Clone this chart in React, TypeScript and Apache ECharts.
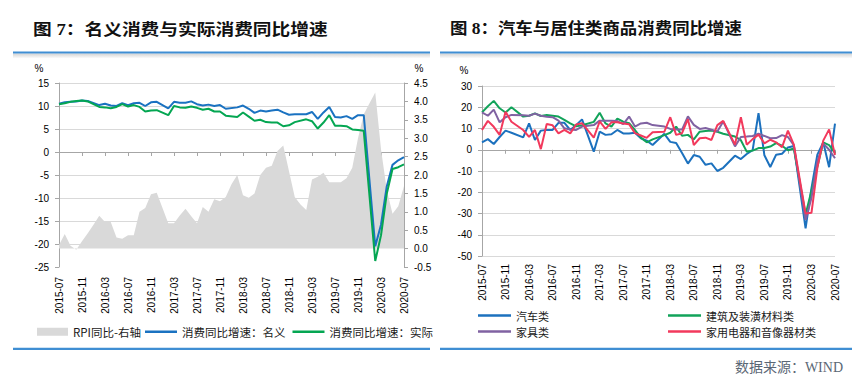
import React, { useEffect, useRef } from 'react';
import * as echarts from 'echarts';

const months = [
  '2015-07','2015-08','2015-09','2015-10','2015-11','2015-12',
  '2016-01','2016-02','2016-03','2016-04','2016-05','2016-06','2016-07','2016-08','2016-09','2016-10','2016-11','2016-12',
  '2017-01','2017-02','2017-03','2017-04','2017-05','2017-06','2017-07','2017-08','2017-09','2017-10','2017-11','2017-12',
  '2018-01','2018-02','2018-03','2018-04','2018-05','2018-06','2018-07','2018-08','2018-09','2018-10','2018-11','2018-12',
  '2019-01','2019-02','2019-03','2019-04','2019-05','2019-06','2019-07','2019-08','2019-09','2019-10','2019-11','2019-12',
  '2020-01','2020-02','2020-03','2020-04','2020-05','2020-06','2020-07',
];

// Figure 7
const rpi = [
  0.1, 0.4, 0.08, -0.03, 0.2, 0.42,
  0.65, 0.89, 0.72, 0.72, 0.3, 0.27, 0.36, 0.36, 1.0, 1.1, 1.48, 1.52,
  1.1, 0.69, 0.69, 0.9, 1.08, 0.88, 0.69, 1.13, 1.0, 1.34, 1.29, 1.4,
  1.75, 2.0, 1.45, 1.38, 1.5, 2.0, 2.2, 2.25, 2.65, 2.8, 2.1, 1.4,
  1.2, 1.05, 1.88, 1.95, 2.06, 1.8, 1.8, 1.8, 1.91, 2.2, 3.0, 3.65,
  3.95, 4.24, 2.7, 1.6, 0.95, 1.15, 1.7,
];
const nominal = [
  10.5, 10.8, 10.9, 11.0, 11.2, 11.1,
  null, 10.2, 10.5, 10.1, 10.0, 10.6, 10.2, 10.6, 10.7, 10.0, 10.8, 10.9,
  null, 9.5, 10.9, 10.7, 10.7, 11.0, 10.4, 10.1, 10.3, 10.0, 10.2, 9.4,
  null, 9.7, 10.1, 9.4, 8.5, 9.0, 8.8, 9.0, 9.2, 8.6, 8.1, 8.2,
  null, 8.2, 8.7, 7.2, 8.6, 9.8, 7.6, 7.5, 7.8, 7.2, 8.0, 8.0,
  null, -20.5, -15.8, -7.5, -2.8, -1.8, -1.1,
];
const real = [
  10.4, 10.6, 10.9, 11.1, 11.2, 11.0,
  null, 9.8, 9.7, 9.5, 9.8, 10.4, 9.9, 10.2, 9.8, 8.8, 9.0, 9.1,
  null, 8.0, 10.0, 9.7, 9.6, 9.9, 9.6, 9.2, 9.4, 8.8, 8.8, 7.9,
  null, 7.6, 8.6, 7.7, 6.8, 7.0, 6.5, 6.4, 6.4, 5.6, 5.8, 6.5,
  null, 7.1, 6.7, 5.1, 6.4, 8.0, 5.7, 5.7, 5.6, 4.9, 4.8, 4.6,
  null, -23.7, -18.1, -9.1, -3.7, -3.3, -2.7,
];

// Figure 8
const auto = [
  3.5, 5.0, 2.7, 6.0, 9.0, 8.0,
  null, 5.8, 12.4, 4.6, 9.0, 9.3, 9.3, 12.7, 12.7, 9.3, 11.6, 14.3,
  null, -0.9, 8.5, 7.0, 7.3, 9.3, 7.7, 7.7, 8.0, 5.4, 4.3, 2.2,
  null, 7.5, 3.7, 3.2, -1.5, -6.5, -2.5, -3.3, -7.1, -6.4, -10.0, -8.5,
  null, -2.8, -4.4, -2.0, -0.2, 17.2, -2.6, -8.1, -2.3, -1.9, 1.1, 1.8,
  null, -37.0, -18.1, -2.3, 3.5, -8.2, 12.3,
];
const building = [
  17.6, 20.5, 23.0, 19.5, 17.5, 20.0,
  null, 15.6, 16.0, 17.1, 15.9, 16.3, 16.0, 15.6, 14.1, 12.4, 11.0, 11.5,
  null, 13.1, 17.4, 12.4, 10.9, 14.7, 13.2, 12.5, 9.3, 5.7, 3.5, 4.9,
  null, 6.9, 8.0, 10.9, 6.6, 7.0, 4.9, 8.5, 8.8, 9.0, 8.5, 7.5,
  null, 6.2, 4.5, -0.9, -0.4, 0.8, 0.8, 1.5, 3.1, 1.9, -0.2, 0.6,
  null, -30.5, -19.3, -8.0, 3.5, 2.2, -1.5,
];
const furniture = [
  17.6, 16.0, 18.9, 12.9, 15.3, 16.4,
  null, 16.2, 16.0, 17.0, 16.0, 15.5, 15.3, 13.7, 10.1, 9.5, 9.3, 10.9,
  null, 11.6, 13.7, 13.7, 13.7, 13.5, 12.1, 15.6, 10.9, 12.4, 12.7, 11.6,
  null, 10.9, 9.8, 9.5, 9.5, 15.7, 11.7, 9.8, 10.2, 9.4, 8.6, 13.3,
  null, 1.6, 6.0, 6.2, 6.5, 7.5, 6.5, 5.4, 5.5, 6.9, 6.0, 2.2,
  null, -33.0, -22.7, -5.4, 3.0, 0.0, -4.0,
];
const appliance = [
  9.3, 13.6, 10.8, 7.0, 17.9, 13.2,
  null, 9.3, 6.1, 9.3, 0.3, 12.1, 11.5, 7.7, 9.3, 7.7, 11.9, 12.5,
  null, 5.7, 13.3, 9.8, 12.9, 12.9, 12.4, 12.0, 7.8, 6.7, 5.6, 8.2,
  null, 8.5, 15.3, 7.0, 7.8, 14.4, 2.2, 5.4, 5.7, 4.6, 11.6, 13.6,
  null, 2.4, 15.3, 2.4, 5.0, 7.1, 3.0, 4.7, 3.5, 1.2, 9.0, 2.4,
  null, -30.0, -29.7, -8.5, 4.3, 9.6, -2.5,
];

const numFont = '"Liberation Sans", Arial, sans-serif';
const cjkFont = '"Noto Sans CJK SC", sans-serif';
const axisGrey = '#A6A6A6';
const gridGrey = '#D9D9D9';

const labelAxis = (gridIndex: number, margin: number) => ({
  gridIndex,
  type: 'category',
  data: months,
  boundaryGap: false,
  position: 'bottom',
  axisLine: { show: false, onZero: false },
  axisTick: { show: false },
  splitLine: { show: false },
  axisLabel: { interval: 3, rotate: 90, margin, fontFamily: numFont, fontSize: 10, color: '#000' },
});
const zeroAxis = (gridIndex: number, yIdx: number) => ({
  gridIndex,
  type: 'category',
  data: months,
  boundaryGap: false,
  position: 'bottom',
  axisLine: { show: true, onZero: true, onZeroAxisIndex: yIdx, lineStyle: { color: axisGrey, width: 1 } },
  axisTick: { show: true, interval: 3, length: 4, lineStyle: { color: axisGrey } },
  axisLabel: { show: false },
  splitLine: { show: false },
});

const legendText = { fontFamily: cjkFont, fontSize: 11.5, color: '#1a1a1a' };
const legendTextTight = { fontFamily: cjkFont, fontSize: 11, lineHeight: 12, color: '#1a1a1a' };

const shadow = () =>
  new echarts.graphic.LinearGradient(0, 0, 0, 1, [
    { offset: 0, color: '#d4d4d4' },
    { offset: 1, color: '#ffffff' },
  ]);

const option: any = {
  animation: false,
  backgroundColor: '#ffffff',
  textStyle: { fontFamily: cjkFont },
  grid: [
    { left: 59, top: 83, width: 345, height: 184, outerBoundsMode: 'none' },
    { left: 482, top: 86, width: 353, height: 170, outerBoundsMode: 'none' },
  ],
  xAxis: [labelAxis(0, 10), zeroAxis(0, 0), labelAxis(1, 8), zeroAxis(1, 2)],
  yAxis: [
    {
      gridIndex: 0, type: 'value', position: 'left', min: -25, max: 15, interval: 5,
      axisLine: { show: true, lineStyle: { color: axisGrey } },
      axisTick: { show: true, length: 4, lineStyle: { color: axisGrey } },
      axisLabel: { margin: 10, fontFamily: numFont, fontSize: 10, color: '#000' },
      splitLine: { show: true, showMinLine: false, lineStyle: { color: gridGrey } },
    },
    {
      gridIndex: 0, type: 'value', position: 'right', min: -0.5, max: 4.5, interval: 0.5,
      axisLine: { show: true, lineStyle: { color: axisGrey } },
      axisTick: { show: true, length: 4, lineStyle: { color: axisGrey } },
      axisLabel: { margin: 10, fontFamily: numFont, fontSize: 10, color: '#000', formatter: (v: number) => v.toFixed(1) },
      splitLine: { show: false },
    },
    {
      gridIndex: 1, type: 'value', position: 'left', min: -50, max: 30, interval: 10,
      axisLine: { show: true, lineStyle: { color: axisGrey } },
      axisTick: { show: true, length: 4, lineStyle: { color: axisGrey } },
      axisLabel: { margin: 10, fontFamily: numFont, fontSize: 10, color: '#000' },
      splitLine: { show: true, lineStyle: { color: gridGrey } },
    },
  ],
  legend: [
    {
      data: [{ name: 'RPI同比-右轴', icon: 'rect' }], left: 37, top: 326, padding: 0,
      itemWidth: 31, itemHeight: 8, itemStyle: { borderWidth: 0 }, textStyle: legendText, selectedMode: false,
    },
    {
      data: [{ name: '消费同比增速：名义', icon: 'rect' }, { name: '消费同比增速：实际', icon: 'rect' }],
      left: 145, top: 326, padding: 0, itemGap: 7,
      itemWidth: 32, itemHeight: 2.5, itemStyle: { borderWidth: 0 }, textStyle: legendText, selectedMode: false,
    },
    {
      orient: 'vertical', data: [{ name: '汽车类', icon: 'rect' }, { name: '家具类', icon: 'rect' }],
      left: 478, top: 309.5, padding: 0, itemGap: 4,
      itemWidth: 33, itemHeight: 2.5, itemStyle: { borderWidth: 0 }, textStyle: legendTextTight, selectedMode: false,
    },
    {
      orient: 'vertical', data: [{ name: '建筑及装潢材料类', icon: 'rect' }, { name: '家用电器和音像器材类', icon: 'rect' }],
      left: 668, top: 309.5, padding: 0, itemGap: 4,
      itemWidth: 33, itemHeight: 2.5, itemStyle: { borderWidth: 0 }, textStyle: legendTextTight, selectedMode: false,
    },
  ],
  series: [
    {
      name: 'RPI同比-右轴', type: 'line', xAxisIndex: 0, yAxisIndex: 1, data: rpi,
      symbol: 'none', color: '#D9D9D9', lineStyle: { width: 0, opacity: 0 },
      areaStyle: { color: '#D9D9D9', opacity: 1 }, z: 1,
    },
    {
      name: '消费同比增速：名义', type: 'line', xAxisIndex: 0, yAxisIndex: 0, data: nominal,
      symbol: 'none', connectNulls: true, color: '#1A72C1', lineStyle: { width: 2 }, z: 3,
    },
    {
      name: '消费同比增速：实际', type: 'line', xAxisIndex: 0, yAxisIndex: 0, data: real,
      symbol: 'none', connectNulls: true, color: '#04A652', lineStyle: { width: 2 }, z: 4,
    },
    {
      name: '汽车类', type: 'line', xAxisIndex: 2, yAxisIndex: 2, data: auto,
      symbol: 'none', connectNulls: true, color: '#1C71BE', lineStyle: { width: 2 }, z: 3,
    },
    {
      name: '建筑及装潢材料类', type: 'line', xAxisIndex: 2, yAxisIndex: 2, data: building,
      symbol: 'none', connectNulls: true, color: '#12A35A', lineStyle: { width: 2 }, z: 4,
    },
    {
      name: '家具类', type: 'line', xAxisIndex: 2, yAxisIndex: 2, data: furniture,
      symbol: 'none', connectNulls: true, color: '#8062A2', lineStyle: { width: 2 }, z: 5,
    },
    {
      name: '家用电器和音像器材类', type: 'line', xAxisIndex: 2, yAxisIndex: 2, data: appliance,
      symbol: 'none', connectNulls: true, color: '#F2395C', lineStyle: { width: 2 }, z: 6,
    },
  ],
  graphic: {
    elements: [
      {
        type: 'text', x: 33, y: 29, scaleX: 1.17, z: 10,
        style: { text: '图 7：名义消费与实际消费同比增速', font: 'bold 16px "Liberation Serif", "Noto Sans CJK SC"', fill: '#111', verticalAlign: 'middle' },
      },
      {
        type: 'text', x: 450, y: 29, scaleX: 1.09, z: 10,
        style: { text: '图 8：汽车与居住类商品消费同比增速', font: 'bold 16px "Liberation Serif", "Noto Sans CJK SC"', fill: '#111', verticalAlign: 'middle' },
      },
      { type: 'rect', shape: { x: 13, y: 53.6, width: 417, height: 5 }, style: { fill: shadow() } },
      { type: 'rect', shape: { x: 440, y: 53.6, width: 412, height: 5 }, style: { fill: shadow() } },
      { type: 'rect', shape: { x: 13, y: 51.4, width: 417, height: 2.2 }, style: { fill: '#3F8ED3' } },
      { type: 'rect', shape: { x: 440, y: 51.4, width: 412, height: 2.2 }, style: { fill: '#3F8ED3' } },
      { type: 'rect', shape: { x: 13, y: 347.8, width: 417, height: 2.2 }, style: { fill: '#3F8ED3' } },
      { type: 'rect', shape: { x: 440, y: 347.8, width: 412, height: 2.2 }, style: { fill: '#3F8ED3' } },
      {
        type: 'text', x: 39, y: 68,
        style: { text: '%', font: '10px "Liberation Sans", Arial', fill: '#000', align: 'center', verticalAlign: 'middle' },
      },
      {
        type: 'text', x: 419, y: 68,
        style: { text: '%', font: '10px "Liberation Sans", Arial', fill: '#000', align: 'center', verticalAlign: 'middle' },
      },
      {
        type: 'text', x: 464, y: 70,
        style: { text: '%', font: '10px "Liberation Sans", Arial', fill: '#000', align: 'center', verticalAlign: 'middle' },
      },
      {
        type: 'text', x: 843, y: 367,
        style: { text: '数据来源：WIND', font: '14px "Liberation Serif", "Noto Sans CJK SC"', fill: '#5B6775', align: 'right', verticalAlign: 'middle' },
      },
    ],
  },
};

export default function App() {
  const ref = useRef<HTMLDivElement>(null);
  useEffect(() => {
    if (!ref.current) return;
    const chart = echarts.init(ref.current, null, { renderer: 'svg' });
    chart.setOption(option);
    return () => chart.dispose();
  }, []);
  return (
    <div
      ref={ref}
      style={{ position: 'absolute', left: 0, top: 0, width: 865, height: 383, background: '#fff' }}
    />
  );
}
